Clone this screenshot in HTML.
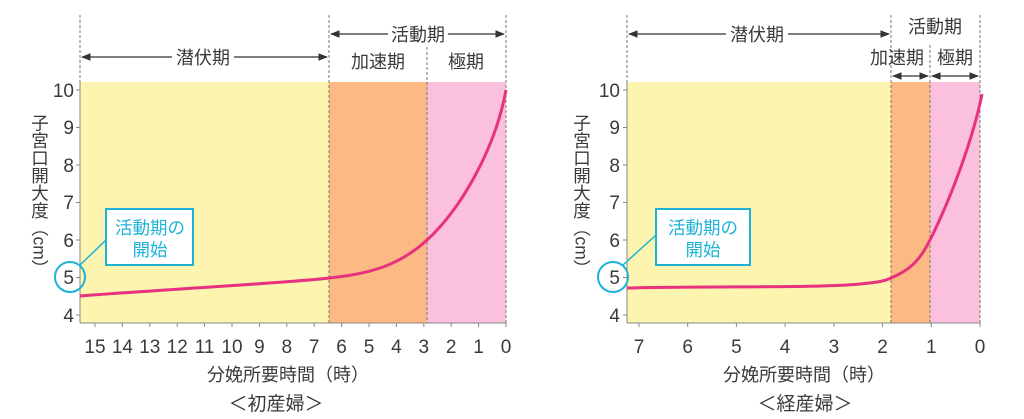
<!DOCTYPE html><html><head><meta charset="utf-8"><style>body{margin:0;background:#fff;position:relative;width:1024px;height:419px;overflow:hidden}svg{display:block}text{font-family:"Liberation Sans","Noto Sans CJK JP",sans-serif;fill:#3a3a3a}.yl{position:absolute;writing-mode:vertical-rl;font-family:"Liberation Sans","Noto Sans CJK JP",sans-serif;font-size:17.5px;color:#3a3a3a;line-height:1;letter-spacing:0}</style></head><body>
<svg width="1024" height="419" viewBox="0 0 1024 419">
<defs><marker id="a" viewBox="0 0 10 10" refX="9" refY="5" markerWidth="8" markerHeight="8" orient="auto-start-reverse"><path d="M0,1L10,5L0,9z" fill="#333"/></marker></defs>
<!-- LEFT -->
<rect x="80" y="82" width="249" height="241" fill="#fdf4b0"/>
<rect x="329" y="82" width="98" height="241" fill="#fcb983"/>
<rect x="427" y="82" width="79" height="241" fill="#fbc1dc"/>
<g stroke="#777" stroke-dasharray="3,2" stroke-width="1"><line x1="80" y1="15" x2="80" y2="323"/><line x1="329" y1="15" x2="329" y2="323"/><line x1="427" y1="47" x2="427" y2="323"/><line x1="506" y1="15" x2="506" y2="323"/></g>
<g stroke="#333" stroke-width="1.2"><line x1="82" y1="57" x2="172" y2="57" marker-start="url(#a)"/><line x1="234" y1="57" x2="327" y2="57" marker-end="url(#a)"/><line x1="331" y1="34" x2="388" y2="34" marker-start="url(#a)"/><line x1="448" y1="34" x2="504" y2="34" marker-end="url(#a)"/></g>
<g font-size="18" text-anchor="middle"><text x="203" y="64">潜伏期</text><text x="418" y="41">活動期</text><text x="378" y="68">加速期</text><text x="466" y="68">極期</text></g>
<g stroke="#888"><line x1="80" y1="82" x2="80" y2="323"/><line x1="80" y1="323" x2="506" y2="323"/></g>
<g stroke="#888"><path d="M76,90h4M76,127.5h4M76,165h4M76,202.5h4M76,240h4M76,277.5h4M76,315h4"/></g>
<g font-size="19" text-anchor="end"><text x="74" y="97">10</text><text x="74" y="134">9</text><text x="74" y="172">8</text><text x="74" y="209">7</text><text x="74" y="247">6</text><text x="74" y="284">5</text><text x="74" y="322">4</text></g>
<g stroke="#888"><path d="M95,323v4M122.4,323v4M149.8,323v4M177.2,323v4M204.6,323v4M232,323v4M259.4,323v4M286.8,323v4M314.2,323v4M341.6,323v4M369,323v4M396.4,323v4M423.8,323v4M451.2,323v4M478.6,323v4M506,323v4"/></g>
<g font-size="19" text-anchor="middle"><text x="95" y="353">15</text><text x="122.4" y="353">14</text><text x="149.8" y="353">13</text><text x="177.2" y="353">12</text><text x="204.6" y="353">11</text><text x="232" y="353">10</text><text x="259.4" y="353">9</text><text x="286.8" y="353">8</text><text x="314.2" y="353">7</text><text x="341.6" y="353">6</text><text x="369" y="353">5</text><text x="396.4" y="353">4</text><text x="423.8" y="353">3</text><text x="451.2" y="353">2</text><text x="478.6" y="353">1</text><text x="506" y="353">0</text></g>
<text x="288" y="381" font-size="18" text-anchor="middle">分娩所要時間（時）</text>
<text x="276" y="410" font-size="19" text-anchor="middle">＜初産婦＞</text>
<path d="M80,296 C200,287 300,282 329,278 C370,274 400,265 427,240 C460,210 495,150 506,90" fill="none" stroke="#e8317f" stroke-width="3"/>
<circle cx="70" cy="277" r="15" fill="none" stroke="#1eb2d6" stroke-width="2"/>
<line x1="80" y1="265" x2="106" y2="240" stroke="#1eb2d6" stroke-width="1.5"/>
<rect x="106" y="209" width="87" height="56" fill="#fff" stroke="#1eb2d6" stroke-width="2"/>
<g font-size="17.5" text-anchor="middle"><text x="150" y="234" style="fill:#1eb2d6">活動期の</text><text x="150" y="256" style="fill:#1eb2d6">開始</text></g>
<!-- RIGHT -->
<rect x="627" y="82" width="264" height="241" fill="#fdf4b0"/>
<rect x="891" y="82" width="39" height="241" fill="#fcb983"/>
<rect x="930" y="82" width="50" height="241" fill="#fbc1dc"/>
<g stroke="#777" stroke-dasharray="3,2"><line x1="627" y1="15" x2="627" y2="323"/><line x1="891" y1="15" x2="891" y2="323"/><line x1="930" y1="45" x2="930" y2="323"/><line x1="980" y1="15" x2="980" y2="323"/></g>
<g stroke="#333" stroke-width="1.2"><line x1="629" y1="34" x2="726" y2="34" marker-start="url(#a)"/><line x1="788" y1="34" x2="889" y2="34" marker-end="url(#a)"/><line x1="893" y1="76" x2="928" y2="76" marker-start="url(#a)" marker-end="url(#a)"/><line x1="932" y1="76" x2="978" y2="76" marker-start="url(#a)" marker-end="url(#a)"/></g>
<g font-size="18" text-anchor="middle"><text x="757" y="41">潜伏期</text><text x="935" y="33">活動期</text><text x="897" y="64">加速期</text><text x="955" y="64">極期</text></g>
<g stroke="#888"><line x1="627" y1="82" x2="627" y2="323"/><line x1="627" y1="323" x2="980" y2="323"/></g>
<g stroke="#888"><path d="M623,90h4M623,127.5h4M623,165h4M623,202.5h4M623,240h4M623,277.5h4M623,315h4"/></g>
<g font-size="19" text-anchor="end"><text x="620" y="97">10</text><text x="620" y="134">9</text><text x="620" y="172">8</text><text x="620" y="209">7</text><text x="620" y="247">6</text><text x="620" y="284">5</text><text x="620" y="322">4</text></g>
<g stroke="#888"><path d="M639,323v4M687.7,323v4M736.4,323v4M785.1,323v4M833.9,323v4M882.6,323v4M931.3,323v4M980,323v4"/></g>
<g font-size="19" text-anchor="middle"><text x="639" y="353">7</text><text x="687.7" y="353">6</text><text x="736.4" y="353">5</text><text x="785.1" y="353">4</text><text x="833.9" y="353">3</text><text x="882.6" y="353">2</text><text x="931.3" y="353">1</text><text x="980" y="353">0</text></g>
<text x="804" y="381" font-size="18" text-anchor="middle">分娩所要時間（時）</text>
<text x="805" y="410" font-size="19" text-anchor="middle">＜経産婦＞</text>
<path d="M627,288 C720,286 820,288 860,284 C880,282 885,281 891,278 C915,268 922,255 930,240 C955,190 975,130 982,94" fill="none" stroke="#e8317f" stroke-width="3"/>
<circle cx="613" cy="277" r="15" fill="none" stroke="#1eb2d6" stroke-width="2"/>
<line x1="623" y1="265" x2="656" y2="235" stroke="#1eb2d6" stroke-width="1.5"/>
<rect x="656" y="209" width="94" height="56" fill="#fff" stroke="#1eb2d6" stroke-width="2"/>
<g font-size="17.5" text-anchor="middle"><text x="703" y="234" style="fill:#1eb2d6">活動期の</text><text x="703" y="256" style="fill:#1eb2d6">開始</text></g>
</svg>
<div class="yl" style="left:30px;top:114px">子宮口開大度（cm）</div>
<div class="yl" style="left:572px;top:114px">子宮口開大度（cm）</div>
</body></html>
